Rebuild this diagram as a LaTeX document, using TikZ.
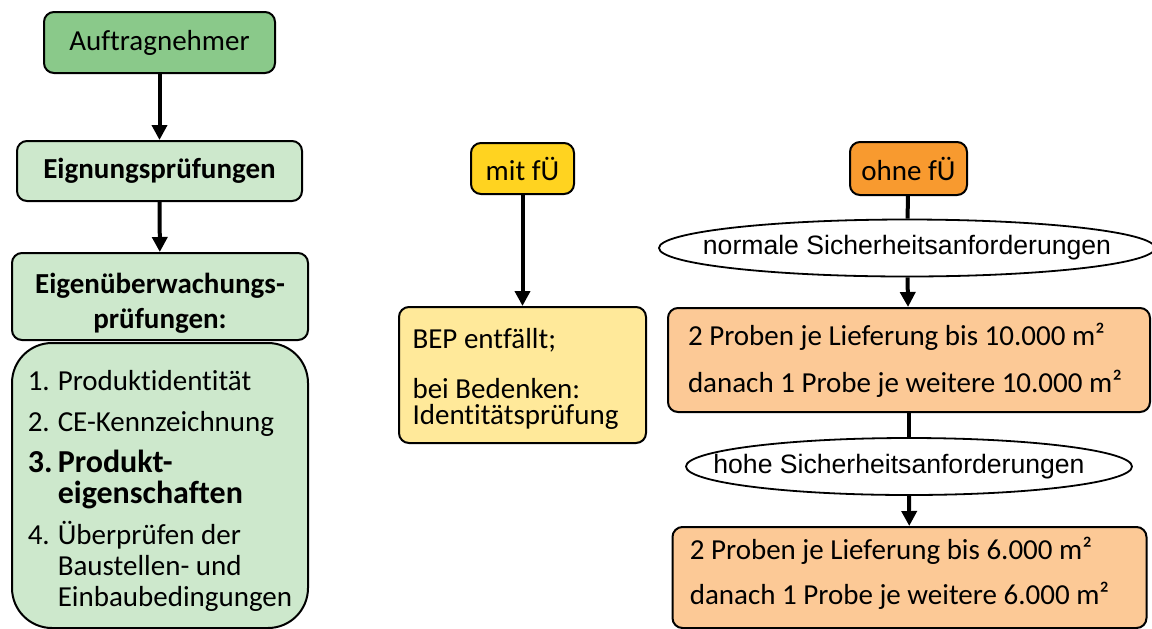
\documentclass[tikz,border=0pt]{standalone}
\usepackage{fontspec}
\setmainfont{Carlito}[Ligatures=NoCommon]
\newfontfamily\arialfont{Liberation Sans}
\usepackage{xcolor}
\usetikzlibrary{arrows.meta,shapes.geometric}
\definecolor{agGreen}{HTML}{8AC98A}
\definecolor{paleGreen}{HTML}{CDE8CC}
\definecolor{fueGold}{HTML}{FFD320}
\definecolor{fueYellow}{HTML}{FFE99A}
\definecolor{fueOrange}{HTML}{F89A2F}
\definecolor{fuePeach}{HTML}{FCC996}
\newcommand{\itm}[1]{\makebox[15pt][l]{#1}}

\begin{document}
\begin{tikzpicture}[x=0.5pt,y=-0.5pt,>={Triangle[width=7.5pt,length=7.5pt]},
  font=\fontsize{14.5}{17}\selectfont,
  box/.style={draw,line width=1pt,rounded corners=5pt,inner sep=0pt},
  cond/.style={draw,ellipse,line width=0.9pt,inner sep=0pt,font=\arialfont\fontsize{13.3}{16}\selectfont},
  flow/.style={line width=2pt}]
\useasboundingbox (0,0) rectangle (1152,628);
% linke Spalte
\node[box,fill=agGreen,minimum width=115.5pt,minimum height=30.5pt] (auftrag) at (159.5,42.5) {Auftragnehmer};
\node[box,fill=paleGreen,minimum width=142.5pt,minimum height=30pt,font=\fontsize{14.5}{17}\selectfont\bfseries] (eignung) at (159.5,171) {Eignungsprüfungen};
\node[box,fill=paleGreen,minimum width=148pt,minimum height=43.5pt,align=center,font=\fontsize{14.5}{17.5}\selectfont\bfseries] (eigenue) at (160,296.5) {\rule{0pt}{17pt}Eigenüberwachungs-\\prüfungen:};
\node[box,rounded corners=20pt,fill=paleGreen,minimum width=148pt,minimum height=142.5pt,align=left,font=\fontsize{14.5}{15.5}\selectfont] (liste) at (160,485.5) {%
\rule{0pt}{15pt}\itm{1.}Produktidentität\\[5pt]
\itm{2.}CE-Kennzeichnung\\[5pt]
{\fontsize{16}{16}\selectfont\bfseries\itm{3.}Produkt-}\\
{\fontsize{16}{16}\selectfont\bfseries\hspace*{15pt}eigenschaften}\\[5pt]
\itm{4.}Überprüfen der\\
\hspace*{15pt}Baustellen- und\\
\hspace*{15pt}Einbaubedingungen};
% mit fremdueberwachung
\node[box,fill=fueGold,minimum width=51.5pt,minimum height=25.5pt] (mitfue) at (522.5,168.5) {mit fÜ};
\node[box,fill=fueYellow,minimum width=123.5pt,minimum height=68pt,align=left,font=\fontsize{14.5}{13}\selectfont] (bep) at (522.5,375) {\rule{0pt}{14pt}BEP entfällt;\\[12pt]bei Bedenken:\\Identitätsprüfung\hspace*{7pt}};
% ohne fremdueberwachung
\node[box,fill=fueOrange,minimum width=58.5pt,minimum height=26.5pt] (ohnefue) at (908.5,168.5) {ohne fÜ};
\node[cond,minimum width=248pt,minimum height=28.5pt] (normal) at (907,248) {\makebox[0pt]{normale Sicherheitsanforderungen}};
\node[box,fill=fuePeach,minimum width=241pt,minimum height=52pt,align=left,font=\fontsize{14.5}{23.5}\selectfont] (probe1) at (909,360) {2 Proben je Lieferung bis 10.000 m²\\danach 1 Probe je weitere 10.000 m²\hspace*{4pt}};
\node[cond,minimum width=223pt,minimum height=28.5pt] (hohe) at (909,466.5) {\makebox[0pt]{\hspace*{-10pt}hohe Sicherheitsanforderungen}};
\node[box,fill=fuePeach,minimum width=237pt,minimum height=50.5pt,align=left,font=\fontsize{14.5}{22.5}\selectfont] (probe2) at (909.5,577.5) {2 Proben je Lieferung bis 6.000 m²\\danach 1 Probe je weitere 6.000 m²\hspace*{10pt}\rule[-7pt]{0pt}{1pt}};
% Pfeile
\draw[flow,->] (auftrag) -- (eignung);
\draw[flow,->] (eignung) -- (eigenue);
\draw[flow,->] (mitfue) -- (bep);
\draw[flow] (ohnefue) -- (normal);
\draw[flow,->] (normal) -- (probe1);
\draw[flow] (probe1) -- (hohe);
\draw[flow,->] (hohe) -- (probe2);
\end{tikzpicture}
\end{document}
